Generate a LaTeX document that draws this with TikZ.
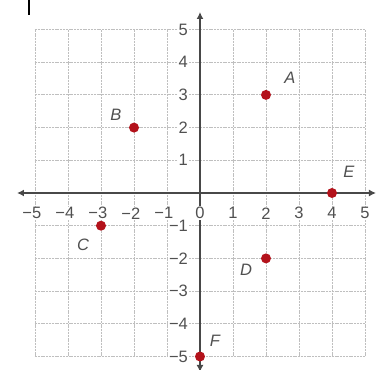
\documentclass[tikz,border=0pt]{standalone}
\usepackage{fontspec}
\setmainfont{Liberation Sans}
\usetikzlibrary{arrows.meta}
\definecolor{ptred}{HTML}{B3121B}
\definecolor{txtgray}{HTML}{505050}
\definecolor{axgray}{HTML}{484848}
\tikzset{
  gridline/.style={draw=gray!50, line width=0.9pt, dash pattern=on 2pt off 0.8pt},
  axisline/.style={draw=axgray, line width=2.3pt, {Latex[length=7pt,width=7pt]}-{Latex[length=7pt,width=7pt]}},
  ticklab/.style={text=txtgray, font=\fontsize{16.5}{16.5}\selectfont, fill=white, inner sep=1pt},
  ptlab/.style={text=txtgray, font=\fontsize{16.5}{16.5}\selectfont\itshape, inner sep=0pt},
  pt/.style={circle, fill=ptred, inner sep=0pt, minimum size=10pt}
}
\begin{document}
\begin{tikzpicture}[x=33pt, y=32.7pt]
\useasboundingbox[fill=white] (-200pt,-177pt) rectangle (176pt,193pt);
% grid
\foreach \i in {-5,...,5} {
  \draw[gridline] (\i,-5) -- (\i,5);
  \draw[gridline] (-5,\i) -- (5,\i);
}
% axes
\coordinate (xl) at (-183pt,0);
\coordinate (xr) at (176pt,0);
\coordinate (yt) at (0,181pt);
\coordinate (yb) at (0,-179pt);
\draw[axisline] (xl) -- (xr);
\draw[axisline] (yb) -- (yt);
% x labels
\foreach \i in {1,...,5} {
  \node[ticklab] (xp\i) at (\i,-0.62) {\i};
  \node[ticklab] (xn\i) at (-\i+0.05,-0.62) {\llap{−}\i};
}
\node[ticklab] (x0) at (0,-0.62) {0};
% y labels
\foreach \i in {1,...,5} {
  \node[ticklab, anchor=east] (yp\i) at (-0.33,\i) {\i};
  \node[ticklab, anchor=east] (yn\i) at (-0.33,-\i) {−\i};
}
% points
\node[pt] (A) at (2,3) {};
\node[pt] (B) at (-2,2) {};
\node[pt] (C) at (-3,-1) {};
\node[pt] (D) at (2,-2) {};
\node[pt] (E) at (4,0) {};
\node[pt] (F) at (0,-5) {};
% point labels
\node[ptlab] (lA) at (90pt,115pt) {A};
\node[ptlab] (lB) at (-84pt,78pt) {B};
\node[ptlab] (lC) at (-117pt,-52pt) {C};
\node[ptlab] (lD) at (46pt,-77pt) {D};
\node[ptlab] (lE) at (149pt,21pt) {E};
\node[ptlab] (lF) at (15pt,-148pt) {F};
% cropped fragment top-left
\coordinate (ft) at (-171pt,193pt);
\coordinate (fb) at (-171pt,178pt);
\draw[black, line width=2pt] (ft) -- (fb);
\end{tikzpicture}
\end{document}
